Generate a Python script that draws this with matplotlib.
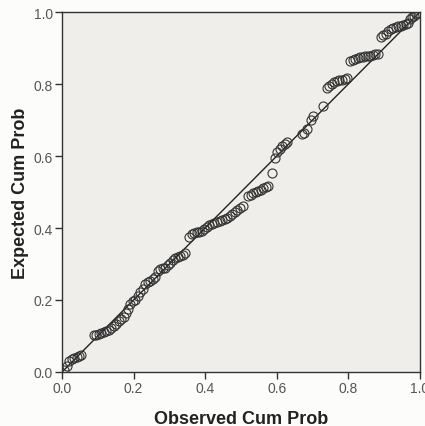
import matplotlib
matplotlib.use("Agg")
from matplotlib import pyplot as plt

plt.rcParams['font.family'] = ['Liberation Sans', 'DejaVu Sans']

# observed cumulative probability (x) and expected cumulative probability (y)
observed = [
    0.005, 0.013, 0.020, 0.027, 0.034, 0.041, 0.048, 0.053,
    0.088, 0.095, 0.102, 0.109, 0.116, 0.123, 0.130, 0.137, 0.144, 0.151,
    0.158, 0.165, 0.172, 0.178, 0.185, 0.190, 0.197, 0.204, 0.211,
    0.218, 0.225, 0.232, 0.239, 0.246, 0.253, 0.260, 0.267, 0.274, 0.281,
    0.288, 0.295, 0.302, 0.309, 0.316, 0.323, 0.330, 0.337, 0.344,
    0.356, 0.363, 0.370, 0.377, 0.384, 0.391, 0.398, 0.405, 0.412, 0.419,
    0.426, 0.433, 0.440, 0.447, 0.454, 0.461, 0.468, 0.475, 0.482, 0.489, 0.496, 0.505,
    0.520, 0.527, 0.534, 0.541, 0.548, 0.555, 0.562, 0.569, 0.576,
    0.588,
    0.595, 0.602, 0.609, 0.616, 0.623, 0.630,
    0.670, 0.677, 0.684, 0.695, 0.702,
    0.728,
    0.740, 0.747, 0.754, 0.761, 0.768, 0.775, 0.782, 0.790, 0.797,
    0.805, 0.812, 0.819, 0.826, 0.833, 0.840, 0.847, 0.854, 0.861, 0.868, 0.875, 0.882,
    0.890, 0.897, 0.904, 0.911, 0.918, 0.925, 0.932, 0.939, 0.946, 0.953, 0.960, 0.967,
    0.972, 0.978, 0.984, 0.990, 0.996,
]
expected = [
    0.005, 0.017, 0.030, 0.037, 0.040, 0.042, 0.044, 0.046,
    0.102, 0.104, 0.106, 0.108, 0.112, 0.114, 0.118, 0.122, 0.127, 0.132,
    0.142, 0.148, 0.153, 0.165, 0.175, 0.190, 0.196, 0.200, 0.210,
    0.222, 0.230, 0.245, 0.250, 0.254, 0.258, 0.263, 0.280, 0.287, 0.290,
    0.290, 0.297, 0.302, 0.310, 0.316, 0.320, 0.322, 0.326, 0.330,
    0.375, 0.382, 0.385, 0.388, 0.390, 0.392, 0.396, 0.404, 0.408, 0.412,
    0.415, 0.418, 0.420, 0.422, 0.425, 0.428, 0.432, 0.440, 0.445, 0.450, 0.455, 0.460,
    0.490, 0.493, 0.496, 0.500, 0.502, 0.505, 0.510, 0.515, 0.518,
    0.553,
    0.595, 0.610, 0.620, 0.628, 0.633, 0.640,
    0.660, 0.665, 0.675, 0.700, 0.710,
    0.740,
    0.790, 0.795, 0.800, 0.805, 0.808, 0.810, 0.812, 0.815, 0.818,
    0.865, 0.868, 0.870, 0.872, 0.874, 0.876, 0.877, 0.878, 0.879, 0.880, 0.882, 0.884,
    0.930, 0.935, 0.940, 0.947, 0.952, 0.955, 0.958, 0.960, 0.962, 0.964, 0.966, 0.970,
    0.980, 0.985, 0.990, 0.995, 0.998,
]
ticks = [0.0, 0.2, 0.4, 0.6, 0.8, 1.0]
tick_labels = ["0.0", "0.2", "0.4", "0.6", "0.8", "1.0"]

fig = plt.figure(figsize=(4.25, 4.27), dpi=100, facecolor="#fcfcfa")
ax = fig.add_axes([0.146, 0.1265, 0.842, 0.843])
ax.set_facecolor("#efeeea")

ax.plot([0, 1], [0, 1], color="#222222", linewidth=1.0, zorder=2)
ax.plot(observed, expected, linestyle="none", marker="o", markersize=6.5,
        markerfacecolor="none", markeredgecolor="#333333",
        markeredgewidth=0.8, zorder=3)

ax.set_xlim(0, 1)
ax.set_ylim(0, 1)
ax.set_xticks(ticks)
ax.set_xticklabels(tick_labels)
ax.set_yticks(ticks)
ax.set_yticklabels(tick_labels)
ax.tick_params(direction="out", length=5, width=1, color="#333333",
               labelsize=10, labelcolor="#555555", pad=1.5)
for s in ax.spines.values():
    s.set_color("#333333")
    s.set_linewidth(1.0)

ax.set_xlabel("Observed Cum Prob", fontsize=13, fontweight="bold",
              color="#222222", labelpad=11)
ax.set_ylabel("Expected Cum Prob", fontsize=13, fontweight="bold",
              color="#222222", labelpad=3)

fig.savefig("out.png", dpi=100, facecolor=fig.get_facecolor())
